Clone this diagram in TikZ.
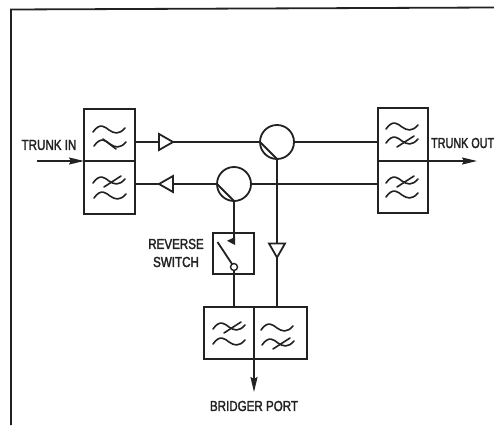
\documentclass[tikz,border=0pt]{standalone}
\usepackage{fontspec}
\setmainfont[FakeStretch=0.8,FakeBold=2]{Liberation Sans}
\usetikzlibrary{arrows.meta,shapes.geometric}
\definecolor{ink}{HTML}{222222}
\tikzset{
  wire/.style={draw=ink,line width=1.8pt},
  frameline/.style={draw=ink,line width=1.8pt},
  cell/.style={draw=ink,line width=1.8pt,minimum width=#1,inner sep=0pt,outer sep=0pt},
  coupler/.style={circle,draw=ink,line width=1.8pt,minimum size=34pt,inner sep=0pt,outer sep=0pt},
  amp/.style={isosceles triangle,isosceles triangle stretches=true,draw=ink,line width=1.8pt,
    minimum height=14pt,minimum width=16pt,inner sep=0pt,outer sep=0pt,shape border rotate=#1,anchor=apex},
  lbl/.style={font=\fontsize{14.5}{18}\selectfont,text=ink,inner sep=0pt,align=center},
  flow/.style={wire,-{Stealth[length=15pt,width=7pt,inset=2pt]}},
  squig/.style={draw=ink,line width=1.6pt,line cap=round},
  pics/tilde/.style={code={
    \draw[squig] (-16,2) .. controls (-9,-8) and (-4,-3) .. (0,0) .. controls (5,3.5) and (10,5) .. (16,-2);
  }},
  pics/lowcut/.style={code={
    \draw[squig] (-16,2) .. controls (-9,-8) and (-4,-3) .. (0,0) .. controls (5,3.5) and (10,5) .. (16,-2);
    \draw[squig] (-5,6) -- (12,-5);
  }},
  pics/hicut/.style={code={
    \draw[squig] (-16,2) .. controls (-9,-8) and (-4,-3) .. (0,0) .. controls (5,3.5) and (10,5) .. (16,-2);
    \draw[squig] (-7,-5) -- (6,5);
  }}
}
\begin{document}
\begin{tikzpicture}[x=1pt,y=-1pt]
\useasboundingbox (0,0) rectangle (494,425);
\fill[white] (0,0) rectangle (494,425);
% frame
\coordinate (fa) at (11,425);
\coordinate (fb) at (11,9.5);
\coordinate (fc) at (494,7.5);
\draw[frameline] (fa) -- (fb) -- (fc);
% filter boxes
\node[cell=51pt,minimum height=52pt,anchor=north west] (lt) at (84,109) {};
\node[cell=51pt,minimum height=53pt,anchor=north west] (lb) at (84,161) {};
\node[cell=50pt,minimum height=53pt,anchor=north west] (rt) at (378,108) {};
\node[cell=50pt,minimum height=52pt,anchor=north west] (rb) at (378,161) {};
\node[cell=50pt,minimum height=52pt,anchor=north west] (bl) at (204,307) {};
\node[cell=53pt,minimum height=52pt,anchor=north west] (br) at (254,307) {};
% filter symbols
\pic at (109,130) {tilde};
\pic at (110,144) {hicut};
\pic at (109,181) {lowcut};
\pic at (110,196) {tilde};
\pic at (402,127) {tilde};
\pic at (402,141) {lowcut};
\pic at (402,181) {lowcut};
\pic at (402,195) {tilde};
\pic at (229,327) {lowcut};
\pic at (229,342) {tilde};
\pic at (277,328) {tilde};
\pic at (278,343) {lowcut};
% couplers and amplifiers
\node[coupler] (cu) at (277,142) {};
\node[coupler] (cl) at (234,184) {};
\node[amp=0] (au) at (173,142) {};
\node[amp=180] (al) at (159,184) {};
\node[amp=-90] (ad) at (277,257.5) {};
% switch
\node[cell=41pt,minimum height=41pt,anchor=north west] (sw) at (213,233) {};
\node[circle,draw=ink,line width=1.4pt,minimum size=7pt,inner sep=0pt,outer sep=0pt] (pivot) at (234,267) {};
\coordinate (blade) at (217.5,242);
\coordinate (cnt) at (234,238);
\fill[ink] (235,237) -- (235,245) -- (227,240.8) -- cycle;
\draw[wire] (blade) -- (pivot);
% connectors
\path (lt.east |- au.apex) coordinate (ltout);
\path (lb.east |- al.apex) coordinate (lbout);
\path (rt.west |- cu.east) coordinate (rtin);
\path (rb.west |- cl.east) coordinate (rbin);
\draw[wire] (ltout) -- (au.lower side);
\draw[wire] (au.apex) -- (cu.west);
\draw[wire] (cu.east) -- (rtin);
\draw[wire] (lbout) -- (al.apex);
\draw[wire] (al.lower side) -- (cl.west);
\draw[wire] (cl.east) -- (rbin);
\draw[wire] (cl.west) -- (cl.south);
\draw[wire] (cu.west) -- (cu.south);
\draw[wire] (cl.south) -- (cnt);
\draw[wire] (cu.south) -- (ad.lower side);
\draw[wire] (ad.apex) -- (ad.apex |- br.north);
\draw[wire] (pivot.south) -- (pivot.south |- bl.north);
% ports
\coordinate (tin) at (37,161);
\coordinate (tout) at (477,161);
\coordinate (bout) at (254,392);
\draw[flow] (tin) -- (lb.north west);
\draw[flow] (rb.north east) -- (tout);
\draw[flow] (bl.south east) -- (bout);
% labels
\node[lbl] (ltin) at (49,145) {TRUNK IN};
\node[lbl,anchor=west,xscale=0.93] (ltout2) at (431,143) {TRUNK OUT};
\node[lbl] (lrev) at (176,244) {REVERSE};
\node[lbl] (lsw) at (176,262) {SWITCH};
\node[lbl] (lbr) at (254,406) {BRIDGER PORT};
\end{tikzpicture}
\end{document}
